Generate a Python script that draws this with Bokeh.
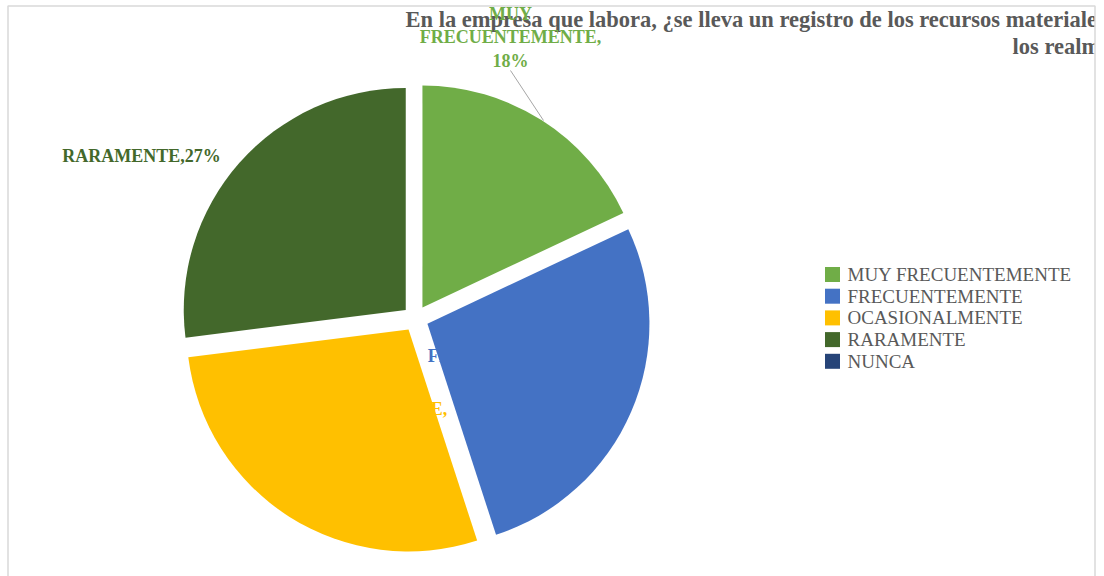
import math
from bokeh.plotting import figure
from bokeh.models import Range1d, ColumnDataSource
from bokeh.core.properties import value
from bokeh.embed import file_html
from bokeh.resources import INLINE

# ---- data ----
categories = ["MUY FRECUENTEMENTE", "FRECUENTEMENTE", "OCASIONALMENTE", "RARAMENTE", "NUNCA"]
percents = [18, 27, 28, 27, 0]
colors = ["#70AD47", "#4472C4", "#FFC000", "#43682B", "#264478"]
# title as visible in the (cropped) reference
title_lines = ["En la empresa que labora, \u00bfse lleva un registro de los recursos materiale",
               "los realm"]

W, H = 1104, 576
PAGE_H = 576

def Y(py):
    return PAGE_H - py

p = figure(width=W, height=H, output_backend="svg", toolbar_location=None,
           x_range=Range1d(0, W), y_range=Range1d(PAGE_H - H, PAGE_H),
           min_border=0, min_border_left=0, min_border_right=0,
           min_border_top=0, min_border_bottom=0)
p.axis.visible = False
p.grid.visible = False
p.outline_line_color = None
p.background_fill_color = "white"

serif = value("Liberation Serif")

# ---- title ----
p.text(x=[405], y=[Y(19)], text=[title_lines[0]], text_font=serif,
       text_font_size="22.5px", text_font_style="bold", text_color="#595959",
       text_align="left", text_baseline="middle")
p.text(x=[1012], y=[Y(46)], text=[title_lines[1]], text_font=serif,
       text_font_size="22.5px", text_font_style="bold", text_color="#595959",
       text_align="left", text_baseline="middle")

# white mask right of the chart border (title is cut there)
p.quad(left=[1094.5], right=[W], bottom=[0], top=[PAGE_H], fill_color="white", line_color=None)

# chart border
p.line([7.5, 7.5, 1094.5, 1094.5], [Y(590), Y(5.5), Y(5.5), Y(590)],
       line_color="#D9D9D9", line_width=1.5)

# ---- pie ----
cx, cy = 415, Y(318)
R = 222
explode = 13
total = sum(percents)
starts, ends, xs, ys = [], [], [], []
acc = 0.0
for v in percents:
    a0 = acc / total * 2 * math.pi
    acc += v
    a1 = acc / total * 2 * math.pi
    mid = (a0 + a1) / 2
    xs.append(cx + explode * math.sin(mid))
    ys.append(cy + explode * math.cos(mid))
    starts.append(math.pi / 2 - a0)
    ends.append(math.pi / 2 - a1)

nz = [i for i, v in enumerate(percents) if v > 0]
src_nz = ColumnDataSource(dict(x=[xs[i] for i in nz], y=[ys[i] for i in nz],
                               start=[starts[i] for i in nz], end=[ends[i] for i in nz],
                               color=[colors[i] for i in nz]))
p.wedge(x="x", y="y", radius=R, start_angle="start", end_angle="end",
        direction="clock", fill_color="color", line_color=None, source=src_nz)

# ---- data labels ----
def label(lines, x, y0, color, dy=23):
    for k, t in enumerate(lines):
        p.text(x=[x], y=[Y(y0 + k * dy)], text=[t], text_font=serif,
               text_font_size="18px", text_font_style="bold", text_color=color,
               text_align="center", text_baseline="middle")

# leader line for first slice label
p.line([510, 543], [Y(70), Y(120)], line_color="#A6A6A6", line_width=1)

label(["RARAMENTE,%d%%" % percents[3]], 141, 155, colors[3])
label(["FRECUENTEMENTE,", "%d%%" % percents[1]], 518, 355, colors[1])
label(["%s," % categories[2], "%d%%" % percents[2]], 357, 408, colors[2])
label(["MUY", "FRECUENTEMENTE,", "%d%%" % percents[0]], 510, 13, colors[0], dy=23.5)

# ---- legend ----
ly0 = 274
ldy = 21.7
leg = ColumnDataSource(dict(
    x=[832] * len(categories),
    y=[Y(ly0 + i * ldy) for i in range(len(categories))],
    tx=[847] * len(categories),
    label=categories, color=colors))
p.rect(x="x", y="y", width=15, height=15, width_units="screen", height_units="screen",
       fill_color="color", line_color=None, source=leg)
p.text(x="tx", y="y", text="label", text_font=serif, text_font_size="19px",
       text_color="#595959", text_align="left", text_baseline="middle", source=leg)

open("out.html", "w").write(file_html(p, INLINE))
